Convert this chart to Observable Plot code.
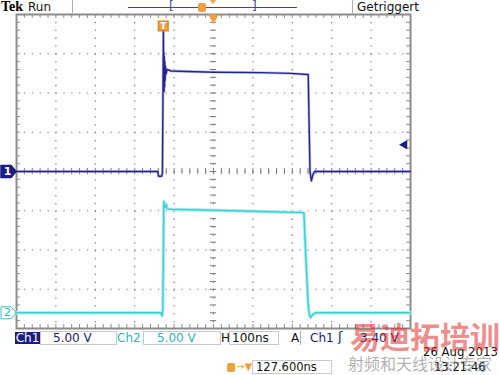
<!DOCTYPE html>
<html><head><meta charset="utf-8">
<script src="https://cdn.jsdelivr.net/npm/d3@7"></script>
<script src="https://cdn.jsdelivr.net/npm/@observablehq/plot@0.6"></script>
<style>
body{margin:0;background:#fff;}
#wrap{position:relative;width:500px;height:375px;overflow:hidden;font-family:"DejaVu Sans",sans-serif;background:#fff;}
#wrap svg{position:absolute;left:0;top:0;}
.t{position:absolute;white-space:nowrap;font-size:12px;line-height:12px;}
.box{position:absolute;border:1px solid #c9c9c9;box-sizing:border-box;}
.sep{position:absolute;width:1px;background:#b0b0b0;}
</style></head><body><div id="wrap"></div>
<script>
// ---- scope settings ----
const timePerDiv = 100;          // ns / div
const horizontalDelay = 127.6;   // ns, screen centre relative to trigger
const ch1VoltsPerDiv = 5;
const ch2VoltsPerDiv = 5;
const ch1Position = 0;           // div
const ch2Position = -3.6;        // div
const triggerLevel = 3.4;        // V on Ch1

// ---- Ch1 trace (time ns, volts) ----
const ch1Time  = [-372.4, -14, -12, -4, -2, 0.5, 1.0, 1.6, 2.2, 2.8, 3.4, 4.0, 4.8, 5.6, 7, 10, 20, 127, 250, 323, 368, 372.5, 376, 380, 384, 627.6];
const ch1Volts = [0, 0, -0.6, -0.6, -0.2, 18.2, 11.0, 15.2, 10.2, 14.6, 10.8, 14.0, 11.6, 13.4, 12.4, 13.0, 12.8, 12.65, 12.6, 12.5, 12.35, 0, -1.2, -0.4, 0, 0];

// ---- Ch2 trace (time ns, volts) ----
const ch2Time  = [-372.4, -6, -3, -1, 1.5, 4, 6, 8, 10, 15, 127, 250, 357, 362, 368, 371, 374, 380, 386, 627.6];
const ch2Volts = [0, 0, -0.4, 0.5, 14.2, 13.4, 13.6, 13.8, 13.3, 13.2, 13.06, 12.9, 12.76, 7, 1, -0.3, -0.6, -0.2, 0, 0];

const xDomain = [horizontalDelay - 5 * timePerDiv, horizontalDelay + 5 * timePerDiv];
const ch1 = ch1Time.map((t, i) => ({t, div: ch1Volts[i] / ch1VoltsPerDiv + ch1Position}));
const ch2 = ch2Time.map((t, i) => ({t, div: ch2Volts[i] / ch2VoltsPerDiv + ch2Position}));

const majorX = d3.range(1, 10).map(i => xDomain[0] + i * timePerDiv);
const majorY = d3.range(-3, 4);
const minorX = d3.range(0, 51).map(i => xDomain[0] + i * timePerDiv / 5);
const minorY = d3.range(0, 41).map(i => -4 + i * 0.2);

const tagSymbol = {draw(ctx, size) {
  const r = Math.sqrt(size / Math.PI);
  ctx.moveTo(-r, -0.8 * r); ctx.lineTo(0.35 * r, -0.8 * r); ctx.lineTo(r, 0);
  ctx.lineTo(0.35 * r, 0.8 * r); ctx.lineTo(-r, 0.8 * r); ctx.closePath();
}};

const grid = "#7a7a7a";
const chart = Plot.plot({
  width: 500, height: 375,
  marginLeft: 16, marginRight: 90, marginTop: 14, marginBottom: 47,
  x: {domain: xDomain, axis: null},
  y: {domain: [-4, 4], axis: null},
  style: {background: "transparent", fontFamily: "DejaVu Sans"},
  marks: [
    Plot.ruleX(majorX, {stroke: grid, strokeWidth: 1.2, strokeDasharray: "1.3 6.57"}),
    Plot.ruleY(majorY, {stroke: grid, strokeWidth: 1.2, strokeDasharray: "1.3 6.58"}),
    Plot.ruleX(minorX, {y1: -0.08, y2: 0.08, stroke: grid}),
    Plot.ruleY(minorY, {x1: horizontalDelay - 8, x2: horizontalDelay + 8, stroke: grid}),
    Plot.ruleX(minorX, {y1: 4, y2: 3.9, stroke: "#8c8c8c"}),
    Plot.ruleX(minorX, {y1: -4, y2: -3.9, stroke: "#8c8c8c"}),
    Plot.ruleY(minorY, {x1: xDomain[0], x2: xDomain[0] + 10, stroke: "#8c8c8c"}),
    Plot.ruleY(minorY, {x1: xDomain[1] - 10, x2: xDomain[1], stroke: "#8c8c8c"}),
    Plot.frame({stroke: "#8c8c8c", strokeWidth: 2}),
    // Ch2 trace with glow
    Plot.line(ch2, {x: "t", y: "div", stroke: "#aeeeee", strokeWidth: 3.4}),
    Plot.line(ch2, {x: "t", y: "div", stroke: "#3fcfcf", strokeWidth: 1.4}),
    // Ch1 trace with glow
    Plot.line(ch1, {x: "t", y: "div", stroke: "#9a9ad8", strokeWidth: 2.8, strokeOpacity: 0.6}),
    Plot.line(ch1, {x: "t", y: "div", stroke: "#24248e", strokeWidth: 1.4}),
    // channel ground markers
    Plot.dot([{t: xDomain[0], div: ch1Position}], {x: "t", y: "div", dx: -8, r: 7.5, symbol: tagSymbol, fill: "#1c1c84", stroke: "#1c1c84"}),
    Plot.text([{t: xDomain[0], div: ch1Position}], {x: "t", y: "div", dx: -9, text: () => "1", fill: "#fff", fontWeight: "bold", fontSize: 11}),
    Plot.dot([{t: xDomain[0], div: ch2Position}], {x: "t", y: "div", dx: -8, r: 7.5, symbol: tagSymbol, fill: "#fff", stroke: "#3fbfbf", strokeWidth: 1}),
    Plot.text([{t: xDomain[0], div: ch2Position}], {x: "t", y: "div", dx: -9, text: () => "2", fill: "#2fb5b5", fontSize: 11}),
    // trigger point marker
    Plot.dot([{t: 0, div: 4}], {x: "t", y: "div", dy: 11.5, r: 5.5, symbol: "square", fill: "#f0a040", stroke: "#d88a2a"}),
    Plot.text([{t: 0, div: 4}], {x: "t", y: "div", dy: 11.5, text: () => "T", fill: "#fff", fontWeight: "bold", fontSize: 9}),
    // horizontal position marker
    Plot.dot([{t: horizontalDelay, div: 4}], {x: "t", y: "div", dy: 3, r: 4, symbol: "triangle", rotate: 180, fill: "#f0a040"}),
    // trigger level marker
    Plot.dot([{t: xDomain[1], div: triggerLevel / ch1VoltsPerDiv + ch1Position}], {x: "t", y: "div", dx: -6, r: 3.5, symbol: "triangle", rotate: -90, fill: "#1c1c84"})
  ]
});

const wrap = document.getElementById("wrap");
wrap.appendChild(chart);

function el(cls, css, text) {
  const d = document.createElement("div");
  d.className = cls; d.style.cssText = css;
  if (text != null) d.textContent = text;
  wrap.appendChild(d); return d;
}
// header
el("t", "left:1px;top:0px;font:bold 14px 'Liberation Serif',serif;color:#000;line-height:14px;", "Tek");
el("t", "left:28px;top:1px;color:#111;", "Run");
el("sep", "left:72px;top:0;height:14px;");
el("", "position:absolute;left:128px;top:7px;width:169px;height:0;border-top:1px solid #45458c;");
el("t", "left:169px;top:0px;color:#45458c;font-size:12px;", "[");
el("t", "left:252px;top:0px;color:#45458c;font-size:12px;", "]");
el("", "position:absolute;left:198px;top:3px;width:8px;height:9px;background:#f0a040;border-radius:2px;");
el("", "position:absolute;left:210px;top:0px;width:0;height:0;border-left:3px solid transparent;border-right:3px solid transparent;border-top:4px solid #f0a040;");
el("sep", "left:352px;top:0;height:14px;");
el("t", "left:357px;top:1px;color:#111;", "Getriggert");

// footer row 1
el("t", "left:15px;top:332px;width:25px;height:12px;background:#1c1c84;color:#fff;text-align:center;", "Ch1");
el("box", "left:40px;top:331px;width:77px;height:14px;");
el("t", "left:53px;top:332px;color:#1c1c60;", "5.00 V");
el("t", "left:117px;top:332px;color:#2fb5b5;", "Ch2");
el("box", "left:143px;top:331px;width:78px;height:14px;");
el("t", "left:157px;top:332px;color:#2fb5b5;", "5.00 V");
el("t", "left:221px;top:332px;color:#111;", "H");
el("box", "left:229px;top:331px;width:50px;height:14px;");
el("t", "left:232px;top:332px;color:#111;", "100ns");
el("t", "left:291px;top:332px;color:#111;", "A");
el("sep", "left:300px;top:331px;height:14px;");
el("t", "left:310px;top:332px;color:#1c1c60;", "Ch1");
el("t", "left:338px;top:331px;color:#1c1c60;font-size:13px;", "\u0283");
el("t", "left:360px;top:332px;color:#1c1c60;", "3.40 V");

// footer row 2
el("", "position:absolute;left:227px;top:363px;width:8px;height:9px;background:#f0a040;border-radius:2px;");
el("t", "left:236px;top:361px;color:#f0a040;font-size:10px;", "\u2192\u25BC");
el("box", "left:252px;top:360px;width:80px;height:14px;");
el("t", "left:256px;top:361px;color:#111;font-size:11.5px;", "127.600ns");
el("t", "left:423px;top:346px;color:#111;font-size:11.7px;", "26 Aug 2013");
el("t", "left:434px;top:361px;color:#111;font-size:11.5px;", "13:21:46");

// watermark
el("t", "left:350px;top:318px;font:bold 30px 'Noto Sans CJK SC',sans-serif;line-height:34px;color:rgba(225,40,40,0.55);", "易迪拓培训");
el("t", "left:348px;top:355px;font:16px 'Noto Sans CJK SC',sans-serif;line-height:17px;color:rgba(110,110,110,0.55);", "射频和天线设计专家");
</script></body></html>
